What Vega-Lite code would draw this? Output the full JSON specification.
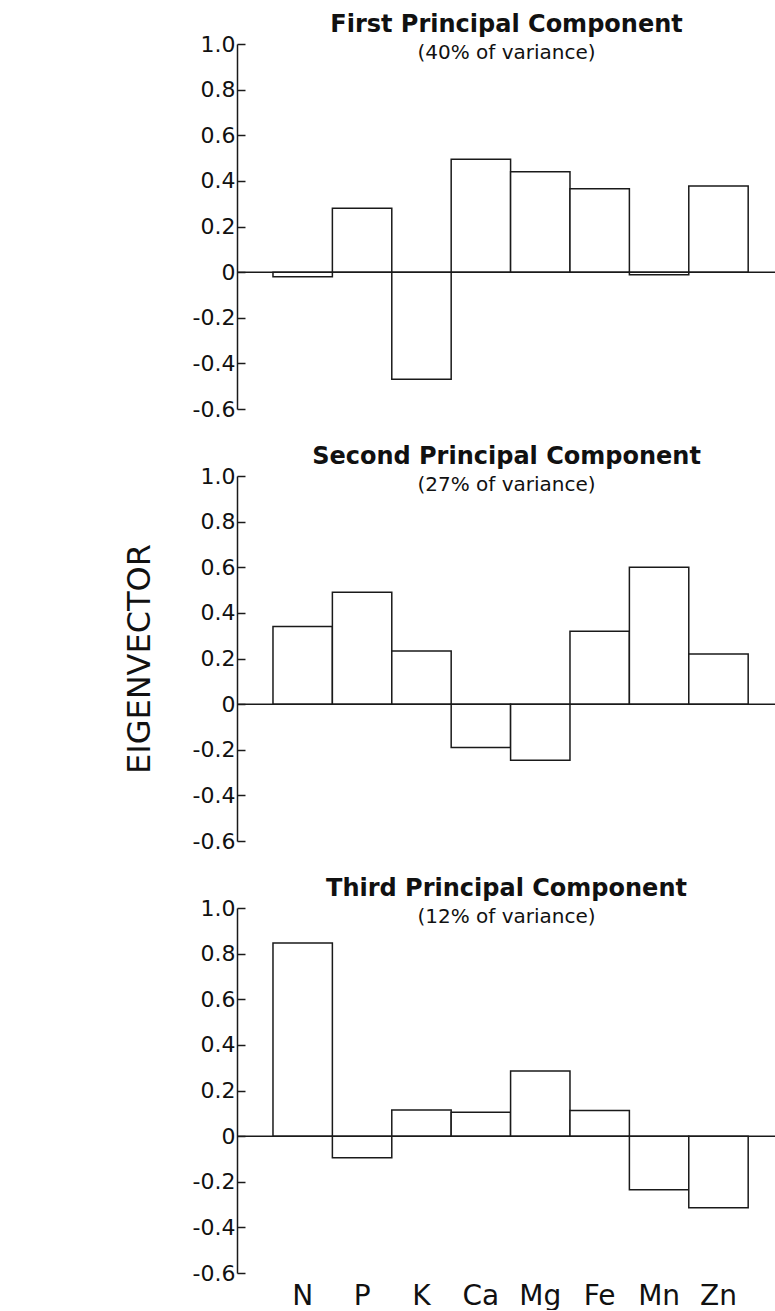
{
  "$schema": "https://vega.github.io/schema/vega-lite/v6.json",
  "padding": {"left": 123, "top": 13, "right": 0, "bottom": 0},
  "background": "white",
  "config": {
    "view": {"stroke": null},
    "font": "DejaVu Sans",
    "concat": {"spacing": 25},
    "title": {"font": "DejaVu Sans", "subtitleFont": "DejaVu Sans", "fontSize": 24, "fontWeight": "bold", "subtitleFontSize": 20, "color": "#111", "subtitleColor": "#111", "anchor": "middle", "frame": "group", "offset": -30, "subtitlePadding": 6},
    "axisY": {"title": null, "grid": false, "values": [-0.6, -0.5, -0.4, -0.3, -0.2, -0.1, 0, 0.1, 0.2, 0.3, 0.4, 0.5, 0.6, 0.7, 0.8, 0.9, 1.0],
      "domainColor": "#1a1a1a", "domainWidth": 1.5, "tickColor": "#1a1a1a", "tickWidth": 1.5,
      "labelFontSize": 22, "labelColor": "#111", "labelPadding": 10, "labelFlush": false, "labelOverlap": false, "labelBound": false}
  },
  "datasets": {
    "pc": [
      {"comp": "First", "element": "N", "value": -0.02},
      {"comp": "First", "element": "P", "value": 0.28},
      {"comp": "First", "element": "K", "value": -0.47},
      {"comp": "First", "element": "Ca", "value": 0.495},
      {"comp": "First", "element": "Mg", "value": 0.44},
      {"comp": "First", "element": "Fe", "value": 0.366},
      {"comp": "First", "element": "Mn", "value": -0.012},
      {"comp": "First", "element": "Zn", "value": 0.378},
      {"comp": "Second", "element": "N", "value": 0.34},
      {"comp": "Second", "element": "P", "value": 0.49},
      {"comp": "Second", "element": "K", "value": 0.233},
      {"comp": "Second", "element": "Ca", "value": -0.19},
      {"comp": "Second", "element": "Mg", "value": -0.246},
      {"comp": "Second", "element": "Fe", "value": 0.32},
      {"comp": "Second", "element": "Mn", "value": 0.60},
      {"comp": "Second", "element": "Zn", "value": 0.22},
      {"comp": "Third", "element": "N", "value": 0.847},
      {"comp": "Third", "element": "P", "value": -0.095},
      {"comp": "Third", "element": "K", "value": 0.115},
      {"comp": "Third", "element": "Ca", "value": 0.105},
      {"comp": "Third", "element": "Mg", "value": 0.285},
      {"comp": "Third", "element": "Fe", "value": 0.112},
      {"comp": "Third", "element": "Mn", "value": -0.235},
      {"comp": "Third", "element": "Zn", "value": -0.314}
    ]
  },
  "vconcat": [
    {
      "width": 539, "height": 365,
      "title": {"text": "First Principal Component", "subtitle": "(40% of variance)"},
      "data": {"name": "pc"},
      "transform": [{"filter": "datum.comp == 'First'"}],
      "layer": [
        {
          "mark": {"type": "bar", "fill": "white", "stroke": "#1a1a1a", "strokeWidth": 1.5},
          "encoding": {
            "x": {"field": "element", "type": "nominal", "sort": null, "scale": {"domain": ["N", "P", "K", "Ca", "Mg", "Fe", "Mn", "Zn"], "paddingInner": 0, "paddingOuter": 0.537, "align": 0.564}, "axis": null},
            "y": {"field": "value", "type": "quantitative", "scale": {"domain": [-0.6, 1.0], "nice": false},
              "axis": {"tickSize": {"expr": "abs(round(datum.value*10)) % 2 == 0 ? -8 : -4"},
                "labelExpr": "abs(round(datum.value*10)) % 2 != 0 ? '' : (datum.value == 0 ? '0' : replace(format(datum.value, '.1f'), '\u2212', '-'))"}}
          }
        },
        {"mark": {"type": "rule", "stroke": "#1a1a1a", "strokeWidth": 1.5}, "data": {"values": [{}]}, "encoding": {"y": {"datum": 0}}}
      ]
    },
    {
      "width": 539, "height": 365,
      "title": {"text": "Second Principal Component", "subtitle": "(27% of variance)"},
      "data": {"name": "pc"},
      "transform": [{"filter": "datum.comp == 'Second'"}],
      "layer": [
        {
          "mark": {"type": "bar", "fill": "white", "stroke": "#1a1a1a", "strokeWidth": 1.5},
          "encoding": {
            "x": {"field": "element", "type": "nominal", "sort": null, "scale": {"domain": ["N", "P", "K", "Ca", "Mg", "Fe", "Mn", "Zn"], "paddingInner": 0, "paddingOuter": 0.537, "align": 0.564}, "axis": null},
            "y": {"field": "value", "type": "quantitative", "scale": {"domain": [-0.6, 1.0], "nice": false},
              "axis": {"title": "EIGENVECTOR", "titleFontSize": 32, "titleFontWeight": "normal", "titleColor": "#111", "titlePadding": 36,
                "tickSize": {"expr": "abs(round(datum.value*10)) % 2 == 0 ? -8 : -4"},
                "labelExpr": "abs(round(datum.value*10)) % 2 != 0 ? '' : (datum.value == 0 ? '0' : replace(format(datum.value, '.1f'), '\u2212', '-'))"}}
          }
        },
        {"mark": {"type": "rule", "stroke": "#1a1a1a", "strokeWidth": 1.5}, "data": {"values": [{}]}, "encoding": {"y": {"datum": 0}}}
      ]
    },
    {
      "width": 539, "height": 365,
      "title": {"text": "Third Principal Component", "subtitle": "(12% of variance)"},
      "data": {"name": "pc"},
      "transform": [{"filter": "datum.comp == 'Third'"}],
      "layer": [
        {
          "mark": {"type": "bar", "fill": "white", "stroke": "#1a1a1a", "strokeWidth": 1.5},
          "encoding": {
            "x": {"field": "element", "type": "nominal", "sort": null, "scale": {"domain": ["N", "P", "K", "Ca", "Mg", "Fe", "Mn", "Zn"], "paddingInner": 0, "paddingOuter": 0.537, "align": 0.564},
              "axis": {"title": null, "ticks": false, "domain": false, "labelAngle": 0, "labelFontSize": 28, "labelColor": "#111", "labelPadding": 9}},
            "y": {"field": "value", "type": "quantitative", "scale": {"domain": [-0.6, 1.0], "nice": false},
              "axis": {"tickSize": {"expr": "abs(round(datum.value*10)) % 2 == 0 ? -8 : -4"},
                "labelExpr": "abs(round(datum.value*10)) % 2 != 0 ? '' : (datum.value == 0 ? '0' : replace(format(datum.value, '.1f'), '\u2212', '-'))"}}
          }
        },
        {"mark": {"type": "rule", "stroke": "#1a1a1a", "strokeWidth": 1.5}, "data": {"values": [{}]}, "encoding": {"y": {"datum": 0}}}
      ]
    }
  ]
}
